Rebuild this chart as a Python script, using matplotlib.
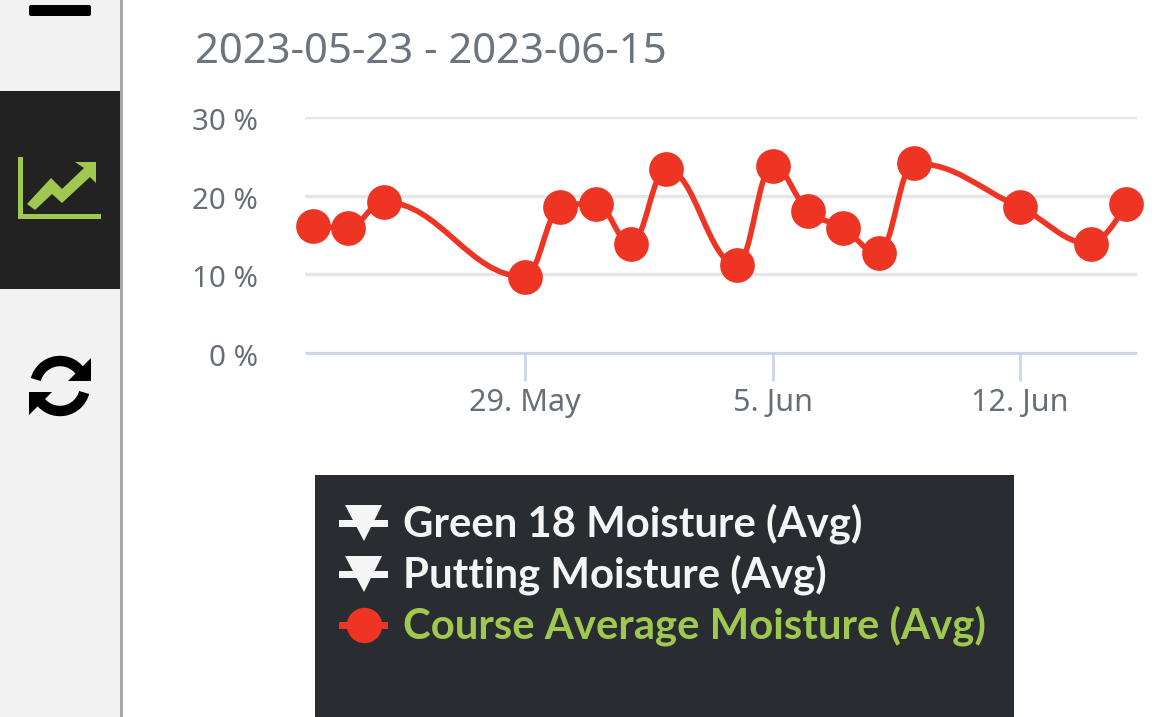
import datetime as dt
import numpy as np
import matplotlib
matplotlib.use("Agg")
import matplotlib.pyplot as plt
import matplotlib.dates as mdates
from matplotlib.patches import Rectangle, Polygon, PathPatch, Arc, FancyBboxPatch
from matplotlib.path import Path
from matplotlib.transforms import ScaledTranslation

# data
dates = ["2023-05-23", "2023-05-24", "2023-05-25", "2023-05-29", "2023-05-30", "2023-05-31",
         "2023-06-01", "2023-06-02", "2023-06-04", "2023-06-05", "2023-06-06", "2023-06-07",
         "2023-06-08", "2023-06-09", "2023-06-12", "2023-06-14", "2023-06-15"]
moisture = [16.1, 15.9, 19.2, 9.7, 18.5, 19.0, 13.9, 23.4, 11.2, 23.8, 18.1, 15.9, 12.7, 24.1, 18.5, 13.9, 18.9]
y_ticks = [0, 10, 20, 30]
y_labels = ["0 %", "10 %", "20 %", "30 %"]
x_ticks = ["2023-05-29", "2023-06-05", "2023-06-12"]
x_labels = ["29. May", "5. Jun", "12. Jun"]
title = "2023-05-23 - 2023-06-15"
legend_names = ["Green 18 Moisture (Avg)", "Putting Moisture (Avg)", "Course Average Moisture (Avg)"]

W, H = 1170, 717
RED = "#ee3524"
GREEN = "#a0c850"
GREY = "#666e77"
plt.rcParams["font.family"] = ["Noto Sans", "DejaVu Sans"]


def to_num(d):
    return mdates.date2num(dt.datetime.strptime(d, "%Y-%m-%d"))


def spline_path(xs, ys):
    # same control points a highcharts spline uses
    s = 1.5
    verts = [(xs[0], ys[0])]
    codes = [Path.MOVETO]
    left = [None] * len(xs)
    right = [None] * len(xs)
    for i in range(len(xs)):
        x, y = xs[i], ys[i]
        if i == 0 or i == len(xs) - 1:
            left[i] = right[i] = (x, y)
            continue
        lx = (s * x + xs[i - 1]) / (s + 1)
        ly = (s * y + ys[i - 1]) / (s + 1)
        rx = (s * x + xs[i + 1]) / (s + 1)
        ry = (s * y + ys[i + 1]) / (s + 1)
        fix = (ry - ly) * (rx - x) / (rx - lx) + y - ry
        ly += fix
        ry += fix
        if ly > max(ys[i - 1], y):
            ly = max(ys[i - 1], y)
            ry = 2 * y - ly
        elif ly < min(ys[i - 1], y):
            ly = min(ys[i - 1], y)
            ry = 2 * y - ly
        if ry > max(ys[i + 1], y):
            ry = max(ys[i + 1], y)
            ly = 2 * y - ry
        elif ry < min(ys[i + 1], y):
            ry = min(ys[i + 1], y)
            ly = 2 * y - ry
        left[i] = (lx, ly)
        right[i] = (rx, ry)
    for i in range(1, len(xs)):
        verts += [right[i - 1], left[i], (xs[i], ys[i])]
        codes += [Path.CURVE4] * 3
    return Path(verts, codes)


fig = plt.figure(figsize=(W / 100, H / 100), dpi=100, facecolor="white")

# overlay in pixel coordinates for the page furniture
bg = fig.add_axes([0, 0, 1, 1])
bg.set_xlim(0, W)
bg.set_ylim(H, 0)
bg.axis("off")
bg.add_patch(Rectangle((0, 0), 120, H, color="#f2f2f2", lw=0))
bg.add_patch(Rectangle((120, 0), 3, H, color="#a9a9a9", lw=0))
bg.add_patch(Rectangle((0, 91), 120, 198, color="#222222", lw=0))
bg.add_patch(FancyBboxPatch((31, 7), 58, 7, boxstyle="round,pad=2", color="black", lw=0))

# chart icon
bg.add_patch(Rectangle((18, 157), 5, 62, color=GREEN, lw=0))
bg.add_patch(Rectangle((18, 214), 83, 5, color=GREEN, lw=0))
bg.add_patch(Polygon([(27, 204), (51, 178), (62, 189), (84, 168), (75, 162), (96, 162), (96, 183),
                      (90, 177), (62, 203), (52, 194), (35, 210)], color=GREEN, lw=0))

# refresh icon
bg.add_patch(Arc((60, 386), 50, 50, theta1=195, theta2=325, color="black", lw=7.5))
bg.add_patch(Arc((60, 386), 50, 50, theta1=15, theta2=145, color="black", lw=7.5))
bg.add_patch(Polygon([(91, 358), (91, 381), (68, 381)], color="black", lw=0))
bg.add_patch(Polygon([(29, 415), (29, 392), (52, 392)], color="black", lw=0))

# legend box
bg.add_patch(Rectangle((315, 475), 699, 242, color="#292d32", lw=0))
legend_y = [523, 574, 625]
for i, name in enumerate(legend_names):
    y = legend_y[i]
    col = RED if i == 2 else "#f5f5f5"
    bg.add_patch(Rectangle((339, y - 3.5), 49, 7, color=col, lw=0))
    if i == 2:
        bg.plot([364], [y], "o", ms=25.5, color=RED, mew=0)
    else:
        bg.add_patch(Polygon([(345, y - 18), (382, y - 18), (364, y + 18)], color=col, lw=0))
    bg.text(403, y + 1, name, family=["Lato", "Noto Sans"], weight="bold", fontsize=30.2,
            color=GREEN if i == 2 else "#f5f5f5", va="center", ha="left")

bg.text(195, 52, title, fontsize=30.2, color="#6c757d", va="center", ha="left")

# the chart itself
ax = fig.add_axes([305 / W, 1 - 353 / H, (1137 - 305) / W, (353 - 117) / H])
ax.patch.set_alpha(0)
xs = np.array([to_num(d) for d in dates])
# 29 May sits at px 525, 12 Jun at px 1020
per_day = (1020 - 525) / 14
x0 = to_num("2023-05-29")
ax.set_xlim(x0 - (525 - 305) / per_day, x0 + (1137 - 525) / per_day)
ax.set_ylim(0, 30)
ax.add_patch(PathPatch(spline_path(list(xs), moisture), fill=False, edgecolor=RED, lw=4, capstyle="round", zorder=3, clip_on=False))
ax.plot(xs, moisture, "o", ms=25, color=RED, mew=0, zorder=4, clip_on=False)

for s in ["top", "left", "right"]:
    ax.spines[s].set_visible(False)
ax.spines["bottom"].set_color("#ccd6eb")
ax.spines["bottom"].set_linewidth(2)
ax.spines["bottom"].set_capstyle("butt")
ax.set_yticks(y_ticks)
ax.set_yticklabels(y_labels, fontsize=21.2, color=GREY)
ax.tick_params(axis="y", length=0, pad=34)
# y labels sit a little under their gridlines
nudge = ScaledTranslation(0, -2 / 100, fig.dpi_scale_trans)
for lab in ax.get_yticklabels():
    lab.set_transform(lab.get_transform() + nudge)
ax.grid(axis="y", color="#e6e6e6", lw=2.5)
ax.set_axisbelow(True)
ax.set_xticks([to_num(d) for d in x_ticks])
ax.set_xticklabels(x_labels, fontsize=22, color=GREY)
ax.tick_params(axis="x", length=20, width=2, color="#ccd6eb", pad=5)

fig.savefig("out.png", dpi=100)
